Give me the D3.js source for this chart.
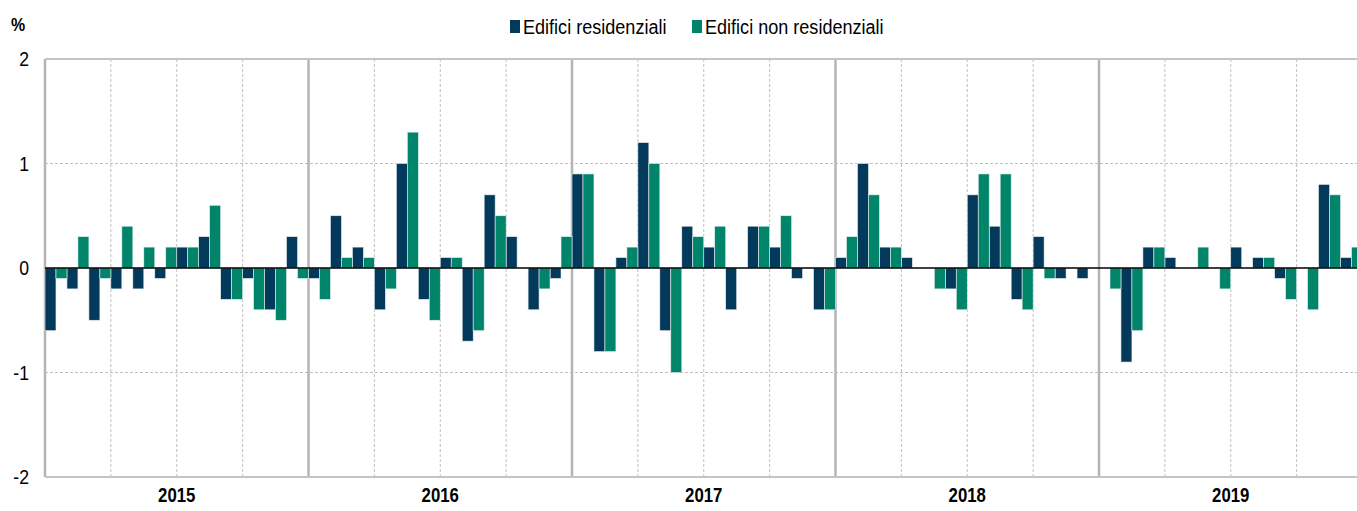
<!DOCTYPE html>
<html><head><meta charset="utf-8">
<script src="https://cdn.jsdelivr.net/npm/d3@7/dist/d3.min.js"></script>
<style>
body{margin:0;background:#fff;}
svg{display:block;font-family:"Liberation Sans Narrow","Arial Narrow","Liberation Sans",Arial,sans-serif;}
</style></head>
<body><svg id="chart" width="1357" height="511"></svg>
<script>
const years = ["2015","2016","2017","2018","2019"];
const seriesNames = ["Edifici residenziali","Edifici non residenziali"];
const residenziali = [
 -0.6,-0.2,-0.5,-0.2,-0.2,-0.1, 0.2, 0.3,-0.3,-0.1,-0.4, 0.3,
 -0.1, 0.5, 0.2,-0.4, 1.0,-0.3, 0.1,-0.7, 0.7, 0.3,-0.4,-0.1,
  0.9,-0.8, 0.1, 1.2,-0.6, 0.4, 0.2,-0.4, 0.4, 0.2,-0.1,-0.4,
  0.1, 1.0, 0.2, 0.1, 0.0,-0.2, 0.7, 0.4,-0.3, 0.3,-0.1,-0.1,
  0.0,-0.9, 0.2, 0.1, 0.0, 0.0, 0.2, 0.1,-0.1, 0.0, 0.8, 0.1];
const nonResidenziali = [
 -0.1, 0.3,-0.1, 0.4, 0.2, 0.2, 0.2, 0.6,-0.3,-0.4,-0.5,-0.1,
 -0.3, 0.1, 0.1,-0.2, 1.3,-0.5, 0.1,-0.6, 0.5, 0.0,-0.2, 0.3,
  0.9,-0.8, 0.2, 1.0,-1.0, 0.3, 0.4, 0.0, 0.4, 0.5, 0.0,-0.4,
  0.3, 0.7, 0.2, 0.0,-0.2,-0.4, 0.9, 0.9,-0.4,-0.1, 0.0, 0.0,
 -0.2,-0.6, 0.2, 0.0, 0.2,-0.2, 0.0, 0.1,-0.3,-0.4, 0.7, 0.2];
const yTicks = [-2,-1,0,1,2];
const colors = ["#033a5b","#00856a"];

const months = d3.range(residenziali.length);
const svg = d3.select("#chart");
const L = 45, R = 1362.5, T = 59, B = 477;
const NARROW = "scale(0.84,1)";

const x = d3.scaleBand().domain(months).range([L, R]).padding(0);
const xs = d3.scaleBand().domain([0,1]).range([0, x.bandwidth()]).padding(0);
const xYear = d3.scaleBand().domain(years).range([L, R]).padding(0);
const xQuarter = d3.scaleLinear().domain([0, 20]).range([L, R]);
const y = d3.scaleLinear().domain([-2, 2]).range([B, T]);

// horizontal dashed grid
const g = svg.append("g");
g.selectAll("line.hg").data(yTicks.filter(v => v !== 0 && Math.abs(v) !== 2)).enter().append("line")
  .attr("x1", L).attr("x2", R).attr("y1", d => y(d)).attr("y2", d => y(d))
  .attr("stroke", "#c0c0c0").attr("stroke-width", 1).attr("stroke-dasharray", "3,2");
// quarter dashed lines
g.selectAll("line.q").data(d3.range(1, 20).filter(q => q % 4 !== 0)).enter().append("line")
  .attr("x1", d => xQuarter(d)).attr("x2", d => xQuarter(d)).attr("y1", T).attr("y2", B)
  .attr("stroke", "#c0c0c0").attr("stroke-width", 1).attr("stroke-dasharray", "3,2");
// year separators
g.selectAll("line.yr").data(years).enter().append("line")
  .attr("x1", d => xYear(d)).attr("x2", d => xYear(d)).attr("y1", T).attr("y2", B)
  .attr("stroke", "#b4b4b4").attr("stroke-width", 2.5);
// top & bottom borders
g.selectAll("line.tb").data([2, -2]).enter().append("line")
  .attr("x1", L).attr("x2", R).attr("y1", d => y(d)).attr("y2", d => y(d))
  .attr("stroke", "#c4c4c4").attr("stroke-width", 2);

// bars
const data = [residenziali, nonResidenziali];
data.forEach((arr, si) => {
  svg.append("g").selectAll("rect").data(arr).enter().append("rect")
    .attr("x", (d, i) => x(i) + xs(si))
    .attr("width", xs.bandwidth())
    .attr("y", d => y(Math.max(0, d)))
    .attr("height", d => Math.abs(y(d) - y(0)))
    .attr("fill", colors[si])
    .attr("stroke", "#e8eef0").attr("stroke-width", 0.6);
});

// zero line
svg.append("line").attr("x1", L).attr("x2", R).attr("y1", y(0)).attr("y2", y(0))
  .attr("stroke", "#000").attr("stroke-width", 1.6);

// y axis labels
const yAxis = d3.axisLeft(y).tickValues(yTicks).tickSize(0).tickPadding(0).tickFormat(d => String(d));
const ya = svg.append("g").attr("transform", `translate(29,0)`).call(yAxis);
ya.select(".domain").remove();
ya.selectAll("text").attr("font-size", 21).attr("fill", "#000").attr("transform", NARROW)
  .attr("font-family", "'Liberation Sans Narrow','Arial Narrow','Liberation Sans',sans-serif");

// x axis year labels
const xAxis = d3.axisBottom(xYear).tickSize(0).tickPadding(0);
const xa = svg.append("g").attr("transform", `translate(0,${B + 11})`).call(xAxis);
xa.select(".domain").remove();
xa.selectAll("text").attr("font-size", 20).attr("font-weight", "bold").attr("fill", "#000").attr("transform", NARROW)
  .attr("font-family", "'Liberation Sans Narrow','Arial Narrow','Liberation Sans',sans-serif");

// % label
svg.append("g").attr("transform", "translate(11,31)").append("text").text("%")
  .attr("font-size", 19).attr("font-weight", "bold").attr("transform", NARROW);

// legend
const legX = [510, 692];
const leg = svg.append("g");
seriesNames.forEach((n, i) => {
  leg.append("rect").attr("x", legX[i]).attr("y", 20).attr("width", 10).attr("height", 13).attr("fill", colors[i]);
  leg.append("g").attr("transform", `translate(${legX[i] + 13},34)`)
    .append("text").text(n).attr("font-size", 21).attr("fill", "#000").attr("transform", "scale(0.86,1)");
});
</script></body></html>
